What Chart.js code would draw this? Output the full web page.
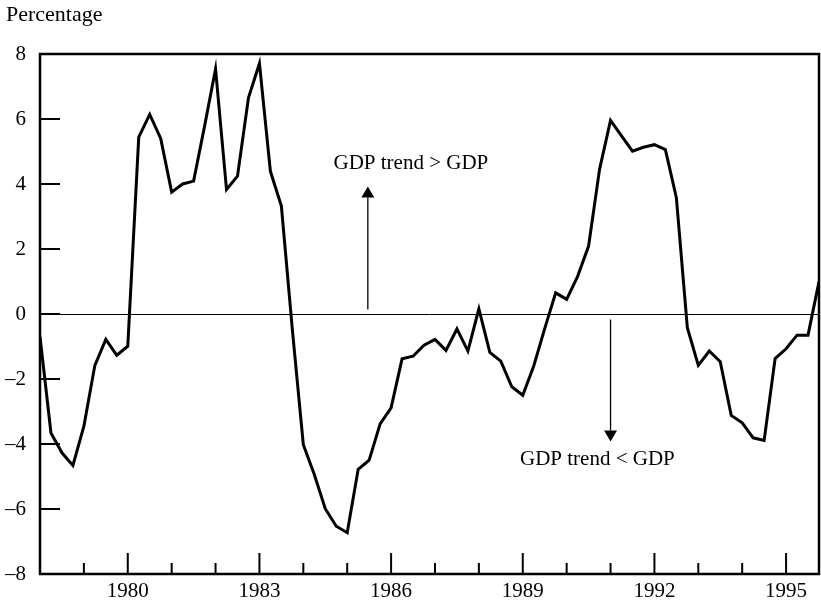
<!DOCTYPE html>
<html>
<head>
<meta charset="utf-8">
<script src="https://cdn.jsdelivr.net/npm/chart.js@4"></script>
<style>
  body { margin: 0; background: #fff; }
  canvas { display: block; }
</style>
</head>
<body>
<canvas id="gapChart" width="821" height="611"></canvas>
<script>
const startYear = 1978;
const endYear = 1995;
// quarterly output gap, 1978Q1 .. 1995Q4
const gap = [
  -0.70, -3.66, -4.27, -4.66,  // 1978
  -3.45, -1.58, -0.78, -1.27,  // 1979
  -0.99, 5.44, 6.14, 5.40,     // 1980
  3.75, 4.00, 4.09, 5.78,      // 1981
  7.54, 3.83, 4.24, 6.65,      // 1982
  7.71, 4.39, 3.32, -0.48,     // 1983
  -4.02, -4.94, -5.99, -6.53,  // 1984
  -6.73, -4.78, -4.50, -3.38,  // 1985
  -2.89, -1.38, -1.30, -0.96,  // 1986
  -0.78, -1.12, -0.46, -1.14,  // 1987
  0.16, -1.18, -1.45, -2.24,   // 1988
  -2.50, -1.60, -0.45, 0.65,   // 1989
  0.45, 1.16, 2.09, 4.45,      // 1990
  5.96, 5.48, 5.01, 5.13,      // 1991
  5.21, 5.06, 3.58, -0.42,     // 1992
  -1.58, -1.14, -1.47, -3.12,  // 1993
  -3.35, -3.81, -3.89, -1.37,  // 1994
  -1.07, -0.65, -0.65, 1.00    // 1995
];
const labelYears = [1980, 1983, 1986, 1989, 1992, 1995];
const yTicks = [-8, -6, -4, -2, 0, 2, 4, 6, 8];

const font = '"Liberation Serif", "Times New Roman", serif';
const points = gap.map((v, i) => ({ x: startYear + i / 4, y: v }));

function fmt(v) {
  return v < 0 ? '\u2013' + Math.abs(v) : String(v);
}

function arrow(ctx, x, y1, y2) {
  const dir = y2 < y1 ? -1 : 1;
  ctx.beginPath();
  ctx.moveTo(x, y1);
  ctx.lineTo(x, y2 - dir * 11);
  ctx.stroke();
  ctx.beginPath();
  ctx.moveTo(x, y2);
  ctx.lineTo(x - 6.5, y2 - dir * 11);
  ctx.lineTo(x + 6.5, y2 - dir * 11);
  ctx.closePath();
  ctx.fill();
}

const decorations = {
  id: 'decorations',
  beforeDatasetsDraw(chart) {
    const { ctx, chartArea: a, scales: { x, y } } = chart;
    ctx.save();
    ctx.strokeStyle = '#000';
    // zero line
    ctx.lineWidth = 1;
    const y0 = Math.round(y.getPixelForValue(0)) + 0.5;
    ctx.beginPath();
    ctx.moveTo(a.left, y0);
    ctx.lineTo(a.right, y0);
    ctx.stroke();
    // inward tick marks
    ctx.lineWidth = 2;
    ctx.beginPath();
    yTicks.forEach(v => {
      const py = y.getPixelForValue(v);
      ctx.moveTo(a.left, py);
      ctx.lineTo(a.left + 20, py);
    });
    for (let yr = startYear + 1; yr <= endYear; yr++) {
      const px = x.getPixelForValue(yr);
      const len = labelYears.includes(yr) ? 21 : 11;
      ctx.moveTo(px, a.bottom);
      ctx.lineTo(px, a.bottom - len);
    }
    ctx.stroke();
    // frame
    ctx.lineWidth = 2.5;
    ctx.strokeRect(a.left, a.top, a.right - a.left, a.bottom - a.top);
    ctx.restore();
  },
  afterDraw(chart) {
    const { ctx, scales: { x, y } } = chart;
    ctx.save();
    ctx.fillStyle = '#000';
    ctx.strokeStyle = '#000';
    ctx.font = '22px ' + font;
    ctx.textBaseline = 'alphabetic';
    ctx.textAlign = 'left';
    ctx.fillText('Percentage', 6, 21);

    ctx.lineWidth = 1.3;
    arrow(ctx, x.getPixelForValue(1985.47), y.getPixelForValue(0.14), y.getPixelForValue(3.92));
    arrow(ctx, x.getPixelForValue(1991.0), y.getPixelForValue(-0.17), y.getPixelForValue(-3.92));

    ctx.font = '21px ' + font;
    ctx.textAlign = 'center';
    ctx.fillText('GDP trend > GDP', x.getPixelForValue(1986.45), y.getPixelForValue(4.46));
    ctx.fillText('GDP trend < GDP', x.getPixelForValue(1990.70), y.getPixelForValue(-4.66));
    ctx.restore();
  }
};

new Chart(document.getElementById('gapChart').getContext('2d'), {
  type: 'line',
  data: {
    datasets: [{
      data: points,
      borderColor: '#000',
      borderWidth: 3,
      pointRadius: 0,
      tension: 0,
      fill: false
    }]
  },
  options: {
    responsive: false,
    animation: false,
    devicePixelRatio: 1,
    layout: { padding: { top: 54, right: 2, left: 0, bottom: 0 } },
    plugins: { legend: { display: false }, tooltip: { enabled: false } },
    scales: {
      x: {
        type: 'linear',
        min: startYear,
        max: endYear + 0.75,
        border: { display: false },
        grid: { display: false, drawTicks: false },
        afterBuildTicks: s => { s.ticks = labelYears.map(v => ({ value: v })); },
        afterFit: s => { s.height = 37; },
        ticks: {
          autoSkip: false,
          maxRotation: 0,
          padding: 5,
          color: '#000',
          font: { family: font, size: 21 },
          callback: v => String(v)
        }
      },
      y: {
        min: -8,
        max: 8,
        border: { display: false },
        grid: { display: false, drawTicks: false },
        afterBuildTicks: s => { s.ticks = yTicks.map(v => ({ value: v })); },
        afterFit: s => { s.width = 40; },
        ticks: {
          padding: 14,
          color: '#000',
          font: { family: font, size: 21 },
          callback: v => fmt(v)
        }
      }
    }
  },
  plugins: [decorations]
});
</script>
</body>
</html>
